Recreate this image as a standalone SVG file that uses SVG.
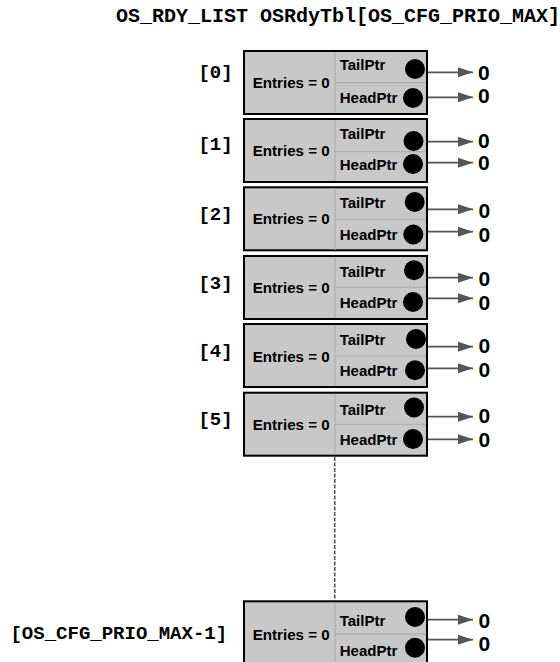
<svg xmlns="http://www.w3.org/2000/svg" width="560" height="662" viewBox="0 0 560 662">
<style>
.box{fill:#c8c8c8;stroke:#000;stroke-width:2}
.div{stroke:#aaaaaa;stroke-width:1;fill:none}
.mono{font-family:"Liberation Mono","Courier New",monospace;font-weight:bold;fill:#000}
.idx{font-size:19px;text-anchor:middle}
.ttl{font-size:20px}
.sans{font-family:"Liberation Sans",Arial,sans-serif;font-weight:bold;fill:#000}
.fld{font-size:15px}
.zero{font-size:21px}
.dot{fill:#000}
.arr{stroke:#555;stroke-width:1.8;fill:none}
.dash{stroke:#555;stroke-width:1.6;stroke-dasharray:4 1.5;fill:none}
</style>
<defs>
<marker id="ah" markerWidth="16" markerHeight="11" refX="15" refY="5.5" orient="auto" markerUnits="userSpaceOnUse" viewBox="0 0 16 11">
<path d="M0,0.5 L15,5.5 L0,10.5 Z" fill="#555"/>
</marker>
</defs>
<text class="mono ttl" x="116" y="22">OS_RDY_LIST OSRdyTbl[OS_CFG_PRIO_MAX]</text>

<g id="connectors">
<path class="dash" d="M334.7,457 V600"/>
<path class="arr" d="M425,72.3 H473" marker-end="url(#ah)"/>
<path class="arr" d="M423,97.3 H473" marker-end="url(#ah)"/>
<path class="arr" d="M424,141.7 H473" marker-end="url(#ah)"/>
<path class="arr" d="M423,162.7 H473" marker-end="url(#ah)"/>
<path class="arr" d="M425,209.3 H473" marker-end="url(#ah)"/>
<path class="arr" d="M423,231.7 H473" marker-end="url(#ah)"/>
<path class="arr" d="M424,277.7 H473" marker-end="url(#ah)"/>
<path class="arr" d="M423,298.3 H473" marker-end="url(#ah)"/>
<path class="arr" d="M426,346.7 H473" marker-end="url(#ah)"/>
<path class="arr" d="M425,368.3 H473" marker-end="url(#ah)"/>
<path class="arr" d="M424,416.7 H473" marker-end="url(#ah)"/>
<path class="arr" d="M423,439.3 H473" marker-end="url(#ah)"/>
<path class="arr" d="M425,619.7 H473" marker-end="url(#ah)"/>
<path class="arr" d="M425,639.7 H473" marker-end="url(#ah)"/>
</g>

<g id="entry0">
<text class="mono idx" x="215.5" y="78">[0]</text>
<rect class="box" x="244" y="51" width="183" height="63"/>
<path class="div" d="M335,52 V113 M335,82.5 H426"/>
<text class="sans fld" x="252.7" y="88" textLength="77" lengthAdjust="spacingAndGlyphs">Entries = 0</text>
<text class="sans fld" x="339.7" y="70" textLength="45.7" lengthAdjust="spacingAndGlyphs">TailPtr</text>
<text class="sans fld" x="339.7" y="103.3" textLength="57.7" lengthAdjust="spacingAndGlyphs">HeadPtr</text>
<circle class="dot" cx="415" cy="69" r="10"/>
<circle class="dot" cx="413" cy="98" r="10"/>
<text class="sans zero" x="478" y="80">0</text>
<text class="sans zero" x="478" y="103">0</text>
</g>

<g id="entry1">
<text class="mono idx" x="215.5" y="150">[1]</text>
<rect class="box" x="244" y="119" width="183" height="63"/>
<path class="div" d="M335,120 V181 M335,151.7 H426"/>
<text class="sans fld" x="252.7" y="156" textLength="77" lengthAdjust="spacingAndGlyphs">Entries = 0</text>
<text class="sans fld" x="339.7" y="139" textLength="45.7" lengthAdjust="spacingAndGlyphs">TailPtr</text>
<text class="sans fld" x="339.7" y="170" textLength="57.7" lengthAdjust="spacingAndGlyphs">HeadPtr</text>
<circle class="dot" cx="413.5" cy="141" r="10"/>
<circle class="dot" cx="413" cy="164" r="10"/>
<text class="sans zero" x="478" y="148.3">0</text>
<text class="sans zero" x="478" y="170">0</text>
</g>

<g id="entry2">
<text class="mono idx" x="215.5" y="220">[2]</text>
<rect class="box" x="244" y="187.3" width="183" height="63"/>
<path class="div" d="M335,188 V250 M335,219.3 H426"/>
<text class="sans fld" x="252.7" y="224" textLength="77" lengthAdjust="spacingAndGlyphs">Entries = 0</text>
<text class="sans fld" x="339.7" y="208.3" textLength="45.7" lengthAdjust="spacingAndGlyphs">TailPtr</text>
<text class="sans fld" x="339.7" y="239.5" textLength="57.7" lengthAdjust="spacingAndGlyphs">HeadPtr</text>
<circle class="dot" cx="414.7" cy="202" r="10"/>
<circle class="dot" cx="413.3" cy="234.5" r="10"/>
<text class="sans zero" x="478.5" y="218">0</text>
<text class="sans zero" x="478.5" y="241.7">0</text>
</g>

<g id="entry3">
<text class="mono idx" x="215.5" y="288.5">[3]</text>
<rect class="box" x="244" y="256" width="183" height="63"/>
<path class="div" d="M335,257 V318 M335,287.3 H426"/>
<text class="sans fld" x="252.7" y="292.7" textLength="77" lengthAdjust="spacingAndGlyphs">Entries = 0</text>
<text class="sans fld" x="339.7" y="276.7" textLength="45.7" lengthAdjust="spacingAndGlyphs">TailPtr</text>
<text class="sans fld" x="339.7" y="308" textLength="57.7" lengthAdjust="spacingAndGlyphs">HeadPtr</text>
<circle class="dot" cx="414" cy="270.3" r="10"/>
<circle class="dot" cx="413" cy="302" r="10"/>
<text class="sans zero" x="478.5" y="286">0</text>
<text class="sans zero" x="478.5" y="310">0</text>
</g>

<g id="entry4">
<text class="mono idx" x="215.5" y="357">[4]</text>
<rect class="box" x="244" y="324" width="183" height="63"/>
<path class="div" d="M335,325 V386 M335,356 H426"/>
<text class="sans fld" x="252.7" y="361.7" textLength="77" lengthAdjust="spacingAndGlyphs">Entries = 0</text>
<text class="sans fld" x="339.7" y="345" textLength="45.7" lengthAdjust="spacingAndGlyphs">TailPtr</text>
<text class="sans fld" x="339.7" y="376" textLength="57.7" lengthAdjust="spacingAndGlyphs">HeadPtr</text>
<circle class="dot" cx="416" cy="339" r="10"/>
<circle class="dot" cx="415" cy="370.3" r="10"/>
<text class="sans zero" x="478.5" y="353.3">0</text>
<text class="sans zero" x="478.5" y="377.3">0</text>
</g>

<g id="entry5">
<text class="mono idx" x="215.5" y="425">[5]</text>
<rect class="box" x="244" y="392.7" width="183" height="63"/>
<path class="div" d="M335,393.7 V455 M335,424.3 H426"/>
<text class="sans fld" x="252.7" y="430" textLength="77" lengthAdjust="spacingAndGlyphs">Entries = 0</text>
<text class="sans fld" x="339.7" y="415" textLength="45.7" lengthAdjust="spacingAndGlyphs">TailPtr</text>
<text class="sans fld" x="339.7" y="445" textLength="57.7" lengthAdjust="spacingAndGlyphs">HeadPtr</text>
<circle class="dot" cx="414" cy="407.5" r="10"/>
<circle class="dot" cx="413" cy="439" r="10"/>
<text class="sans zero" x="478.5" y="423.3">0</text>
<text class="sans zero" x="478.5" y="446.7">0</text>
</g>

<g id="entryLast">
<text class="mono idx" x="118.8" y="639">[OS_CFG_PRIO_MAX-1]</text>
<rect class="box" x="244" y="601.3" width="183" height="63"/>
<path class="div" d="M335,602.3 V664 M335,634 H426"/>
<text class="sans fld" x="252.7" y="640" textLength="77" lengthAdjust="spacingAndGlyphs">Entries = 0</text>
<text class="sans fld" x="339.7" y="626.3" textLength="45.7" lengthAdjust="spacingAndGlyphs">TailPtr</text>
<text class="sans fld" x="339.7" y="656.3" textLength="57.7" lengthAdjust="spacingAndGlyphs">HeadPtr</text>
<circle class="dot" cx="415" cy="617" r="10"/>
<circle class="dot" cx="415" cy="647.7" r="10"/>
<text class="sans zero" x="478.5" y="628">0</text>
<text class="sans zero" x="478.5" y="651.3">0</text>
</g>
</svg>
